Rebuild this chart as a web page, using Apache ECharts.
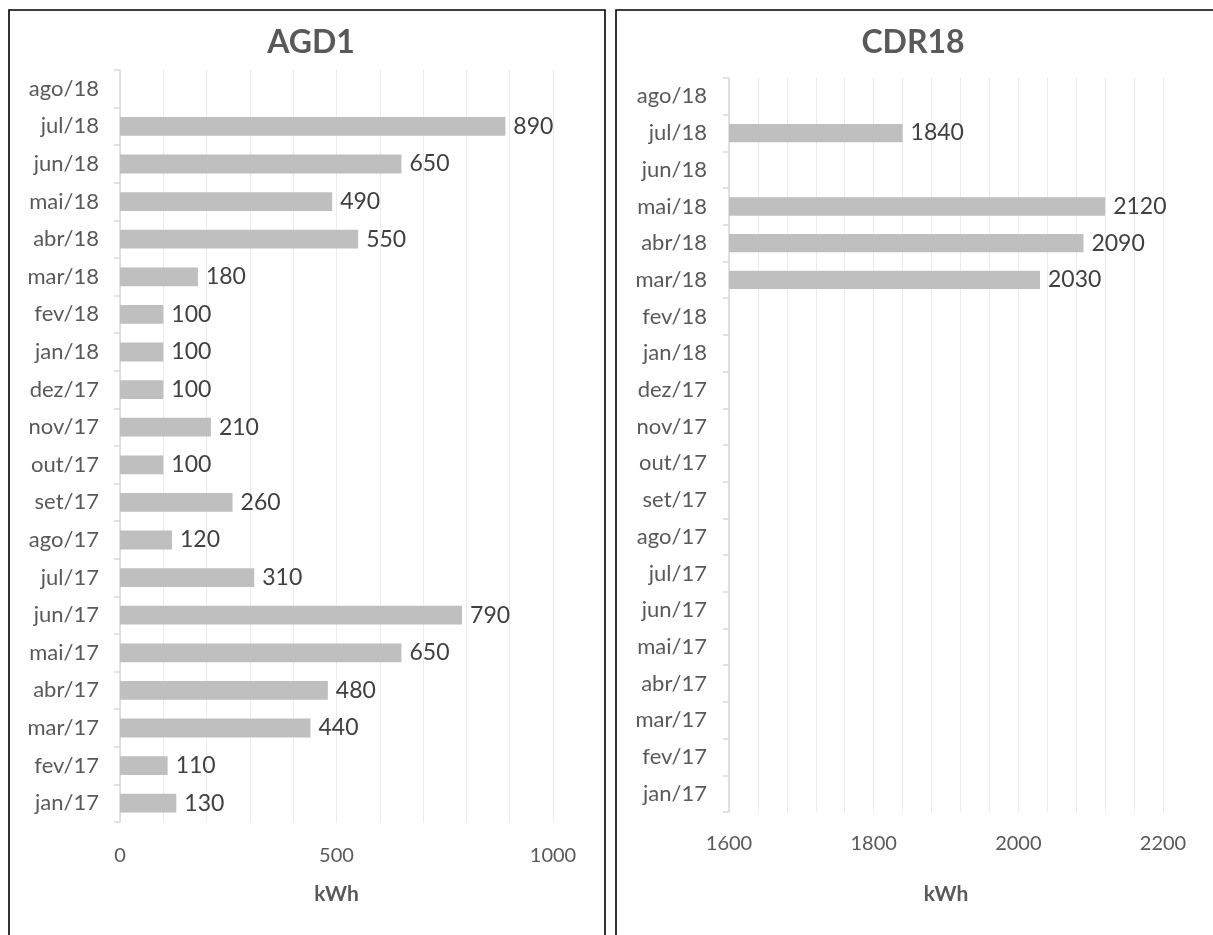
<!DOCTYPE html>
<html>
<head>
<meta charset="utf-8">
<title>AGD1 / CDR18</title>
<script src="https://cdn.jsdelivr.net/npm/echarts@6/dist/echarts.min.js"></script>
<style>
  html, body { margin: 0; padding: 0; background: #fff; }
  #chart { width: 1213px; height: 935px; }
</style>
</head>
<body>
<div id="chart"></div>
<script>
// Monthly categories, bottom to top
const months = ['jan/17','fev/17','mar/17','abr/17','mai/17','jun/17','jul/17','ago/17','set/17','out/17',
                'nov/17','dez/17','jan/18','fev/18','mar/18','abr/18','mai/18','jun/18','jul/18','ago/18'];

// AGD1 consumption (kWh)
const agd1 = [130,110,440,480,650,790,310,120,260,100,210,100,100,100,180,550,490,650,890,null];

// CDR18 consumption (kWh)
const cdr18 = [null,null,null,null,null,null,null,null,null,null,null,null,null,null,2030,2090,2120,null,1840,null];

const titles = ['AGD1', 'CDR18'];
const axisName = 'kWh';

const FONT = 'Lato, "Open Sans", sans-serif';
const TXT = '#595959';
const BAR = '#bfbfbf';
const GRID = '#ebebeb';
const AXIS = '#d9d9d9';

const chart = echarts.init(document.getElementById('chart'), null, { renderer: 'canvas' });

function valueAxis(gridIndex, min, max, step, labelEvery, labelMargin, nameGap) {
  return {
    type: 'value', gridIndex, min, max, interval: step,
    axisLine: { show: false }, axisTick: { show: false },
    splitLine: { show: true, lineStyle: { color: GRID, width: 1 } },
    axisLabel: {
      color: TXT, fontFamily: FONT, fontSize: 20, margin: labelMargin,
      formatter: v => (Math.round(v - min) % labelEvery === 0 ? String(v) : '')
    },
    name: axisName, nameLocation: 'middle', nameGap,
    nameTextStyle: { color: TXT, fontFamily: FONT, fontSize: 21, fontWeight: 'bold' }
  };
}

function catAxis(gridIndex, labelMargin) {
  return {
    type: 'category', gridIndex, data: months,
    axisLine: { show: true, lineStyle: { color: AXIS, width: 1.5 } },
    axisTick: { show: true, length: 6, lineStyle: { color: AXIS, width: 1.5 } },
    splitLine: { show: false },
    axisLabel: { color: TXT, fontFamily: FONT, fontSize: 22, margin: labelMargin }
  };
}

function barSeries(idx, data) {
  return {
    type: 'bar', xAxisIndex: idx, yAxisIndex: idx, data,
    barCategoryGap: '50%',
    itemStyle: { color: BAR },
    label: {
      show: true, position: 'right', distance: 8,
      color: '#404040', fontFamily: FONT, fontSize: 23
    },
    silent: true
  };
}

chart.setOption({
  animation: false,
  backgroundColor: '#fff',
  title: [
    { text: titles[0], left: 306, top: 22, textAlign: 'center',
      textStyle: { color: TXT, fontFamily: FONT, fontSize: 32, fontWeight: 'bold' } },
    { text: titles[1], left: 908, top: 22, textAlign: 'center',
      textStyle: { color: TXT, fontFamily: FONT, fontSize: 32, fontWeight: 'bold' } }
  ],
  grid: [
    { left: 120, top: 70, width: 433, height: 752 },
    { left: 729, top: 78, width: 434, height: 734 }
  ],
  xAxis: [
    valueAxis(0, 0, 1000, 100, 500, 24, 62),
    valueAxis(1, 1600, 2200, 40, 200, 22, 72)
  ],
  yAxis: [catAxis(0, 21), catAxis(1, 22)],
  series: [barSeries(0, agd1), barSeries(1, cdr18)],
  graphic: [
    { type: 'polyline', shape: { points: [[9, 940], [9, 10], [605, 10], [605, 940]] },
      style: { stroke: '#000', lineWidth: 1.6, fill: null }, silent: true },
    { type: 'polyline', shape: { points: [[616, 940], [616, 10], [1220, 10]] },
      style: { stroke: '#000', lineWidth: 1.6, fill: null }, silent: true }
  ]
});
</script>
</body>
</html>
